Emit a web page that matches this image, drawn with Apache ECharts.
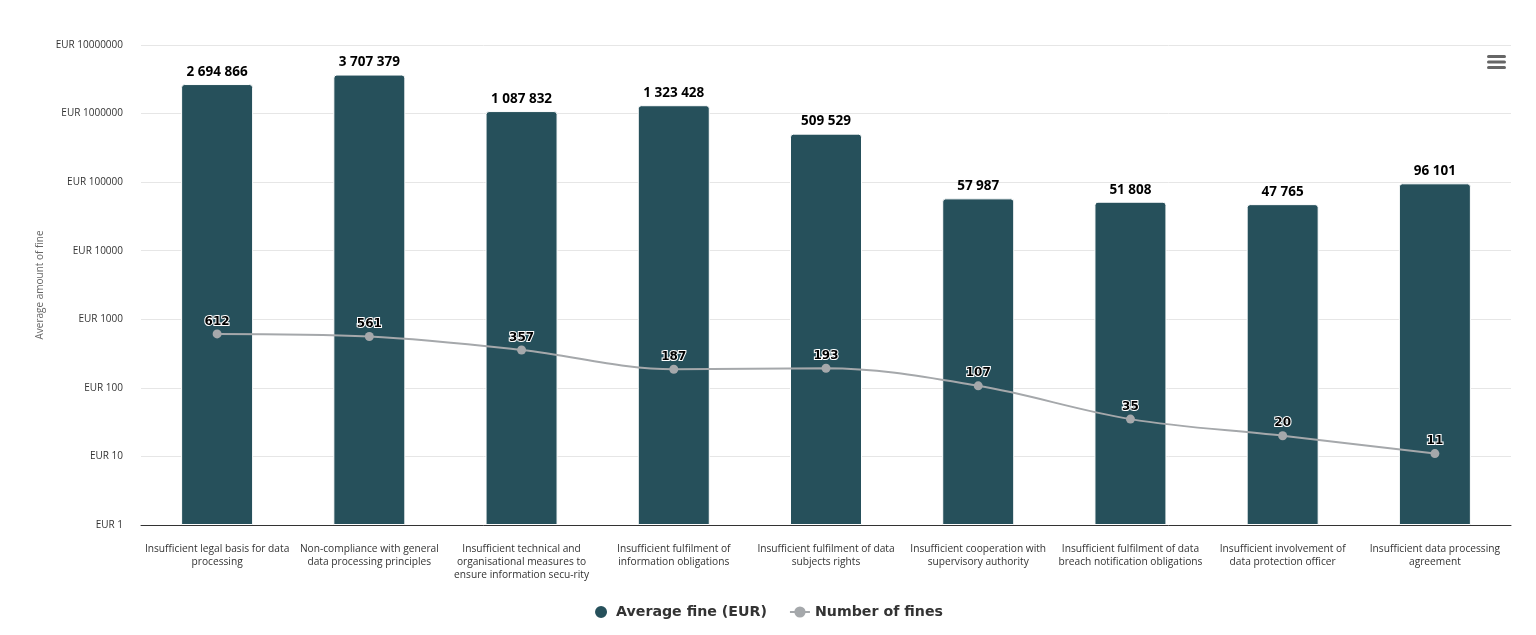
<!DOCTYPE html>
<html>
<head>
<meta charset="utf-8">
<script src="https://cdn.jsdelivr.net/npm/echarts@6/dist/echarts.min.js"></script>
<style>
  html, body { margin: 0; padding: 0; background: #fff; }
  #main { width: 1536px; height: 635px; }
</style>
</head>
<body>
<div id="main"></div>
<script>
var chartDom = document.getElementById('main');
var myChart = echarts.init(chartDom);
var option;

// categories (line breaks as in the original labels)
const categories = [
  'Insufficient legal basis for data\nprocessing',
  'Non-compliance with general\ndata processing principles',
  'Insufficient technical and\norganisational measures to\nensure information secu-rity',
  'Insufficient fulfilment of\ninformation obligations',
  'Insufficient fulfilment of data\nsubjects rights',
  'Insufficient cooperation with\nsupervisory authority',
  'Insufficient fulfilment of data\nbreach notification obligations',
  'Insufficient involvement of\ndata protection officer',
  'Insufficient data processing\nagreement'
]
const averageFine = [2694866, 3707379, 1087832, 1323428, 509529, 57987, 51808, 47765, 96101]
const numberOfFines = [612, 561, 357, 187, 193, 107, 35, 20, 11]

const font = 'Open Sans'
const boldFont = 'DejaVu Sans'

function spaced(v) {
  return String(v).replace(/\B(?=(\d{3})+(?!\d))/g, ' ')
}

option = {
  animation: false,
  textStyle: { fontFamily: font },
  grid: { left: 141, right: 25, top: 45, bottom: 110 },
  legend: {
    bottom: 10,
    left: 'center',
    itemGap: 22,
    itemWidth: 20,
    itemHeight: 14,
    textStyle: { fontFamily: boldFont, fontSize: 14.2, fontWeight: 'bold', color: '#333' },
    data: [
      { name: 'Average fine (EUR)', icon: 'circle' },
      { name: 'Number of fines' }
    ]
  },
  xAxis: {
    type: 'category',
    data: categories,
    axisTick: { show: false },
    axisLine: { lineStyle: { color: '#333', width: 1 } },
    axisLabel: {
      interval: 0,
      margin: 18,
      fontSize: 10.2,
      lineHeight: 13,
      color: '#333',
      fontFamily: font,
      verticalAlign: 'top'
    }
  },
  yAxis: {
    type: 'log',
    logBase: 10,
    min: 1,
    max: 10000000,
    name: 'Average amount of fine',
    nameLocation: 'middle',
    nameGap: 95,
    nameTextStyle: { fontSize: 10, color: '#666', fontFamily: font },
    axisLine: { show: false },
    axisTick: { show: false },
    splitLine: { lineStyle: { color: '#e6e6e6' } },
    axisLabel: {
      margin: 18,
      fontSize: 10,
      color: '#333',
      fontFamily: font,
      formatter: function (v) { return 'EUR ' + v }
    }
  },
  series: [
    {
      name: 'Average fine (EUR)',
      type: 'bar',
      data: averageFine,
      barWidth: 72,
      itemStyle: {
        color: '#26505b',
        borderColor: '#ffffff',
        borderWidth: 1,
        borderRadius: [3, 3, 0, 0]
      },
      label: {
        show: true,
        position: 'top',
        distance: 5,
        fontSize: 13.5,
        fontWeight: 'bold',
        color: '#000',
        fontFamily: font,
        formatter: function (p) { return spaced(p.value) }
      }
    },
    {
      name: 'Number of fines',
      type: 'line',
      data: numberOfFines,
      smooth: 0.35,
      symbol: 'circle',
      symbolSize: 9,
      z: 5,
      lineStyle: { color: '#a5a8ab', width: 2 },
      itemStyle: { color: '#a5a8ab' },
      label: {
        show: true,
        position: 'top',
        distance: 2,
        fontSize: 12,
        fontWeight: 'bold',
        color: '#000',
        textBorderColor: '#fff',
        textBorderWidth: 2,
        fontFamily: boldFont
      }
    }
  ],
  graphic: [
    {
      type: 'group',
      right: 30,
      top: 55,
      children: [
        { type: 'rect', shape: { x: 0, y: 0, width: 19, height: 3, r: 1.5 }, style: { fill: '#666' } },
        { type: 'rect', shape: { x: 0, y: 5.5, width: 19, height: 3, r: 1.5 }, style: { fill: '#666' } },
        { type: 'rect', shape: { x: 0, y: 11, width: 19, height: 3, r: 1.5 }, style: { fill: '#666' } }
      ]
    }
  ]
};

option && myChart.setOption(option);
</script>
</body>
</html>
